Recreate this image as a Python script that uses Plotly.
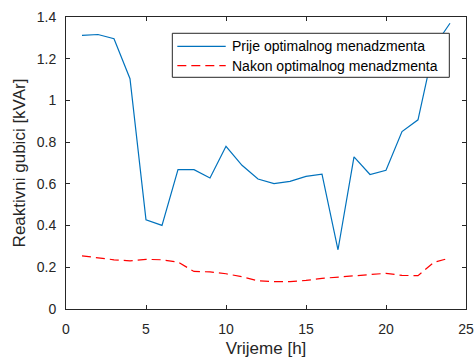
import plotly.graph_objects as go

# Hourly reactive losses before and after optimal management
hours = list(range(1, 25))
prije = [1.312, 1.316, 1.296, 1.104, 0.428, 0.401, 0.668, 0.668, 0.628, 0.780,
         0.689, 0.623, 0.601, 0.612, 0.636, 0.647, 0.284, 0.729, 0.645, 0.665,
         0.851, 0.907, 1.258, 1.370]
nakon = [0.255, 0.244, 0.236, 0.231, 0.238, 0.236, 0.225, 0.180, 0.178, 0.169,
         0.155, 0.135, 0.131, 0.131, 0.137, 0.147, 0.153, 0.160, 0.168, 0.171,
         0.161, 0.160, 0.224, 0.245]

series_names = ["Prije optimalnog menadzmenta", "Nakon optimalnog menadzmenta"]

x_ticks = [0, 5, 10, 15, 20, 25]
y_ticks = [0, 0.2, 0.4, 0.6, 0.8, 1.0, 1.2, 1.4]
y_tick_text = ["0", "0.2", "0.4", "0.6", "0.8", "1", "1.2", "1.4"]

FONT = "Liberation Sans, Arial, sans-serif"
AX = "#262626"
BLUE = "#0072BD"
RED = "#FF0000"
RED_DASH = "9px,5px"

fig = go.Figure()
fig.add_trace(go.Scatter(
    x=hours, y=prije, mode="lines", name=series_names[0],
    line=dict(color=BLUE, width=1.2),
))
fig.add_trace(go.Scatter(
    x=hours, y=nakon, mode="lines", name=series_names[1],
    line=dict(color=RED, width=1.2, dash=RED_DASH),
))

# Boxed legend in the upper right, drawn over the lines
box = dict(x0=0.2658, x1=0.9583, y0=0.7935, y1=0.9442)
fig.add_shape(type="rect", xref="paper", yref="paper", layer="above",
              fillcolor="white", line=dict(color=AX, width=1), **box)
rows = [(0.8997, BLUE, "solid"), (0.8332, RED, RED_DASH)]
for (ry, color, dash), label in zip(rows, series_names):
    fig.add_shape(type="line", xref="paper", yref="paper", layer="above",
                  x0=0.2783, x1=0.3993, y0=ry, y1=ry,
                  line=dict(color=color, width=1.2, dash=dash))
    fig.add_annotation(text=label, xref="paper", yref="paper", x=0.409, y=ry,
                       xanchor="left", yanchor="middle", showarrow=False,
                       font=dict(family=FONT, size=14, color="black"))

axis_common = dict(
    showline=True, mirror="ticks", linecolor=AX, linewidth=1,
    ticks="inside", ticklen=4, tickcolor=AX, tickwidth=1,
    showgrid=False, zeroline=False,
    tickfont=dict(family=FONT, size=14, color=AX),
)

fig.update_layout(
    width=475, height=358,
    margin=dict(l=66, r=9, t=17, b=49),
    paper_bgcolor="white", plot_bgcolor="white",
    font=dict(family=FONT, color=AX),
    showlegend=False,
    xaxis=dict(
        range=[0, 25], tickvals=x_ticks, ticklabelstandoff=7,
        title=dict(text="Vrijeme [h]", font=dict(family=FONT, size=17, color=AX), standoff=14),
        automargin=False,
        **axis_common,
    ),
    yaxis=dict(
        range=[0, 1.4], tickvals=y_ticks, ticktext=y_tick_text, ticklabelstandoff=6,
        title=dict(text="Reaktivni gubici [kVAr]", font=dict(family=FONT, size=17, color=AX), standoff=6),
        automargin=False,
        **axis_common,
    ),
)

fig.write_html("out.html")
